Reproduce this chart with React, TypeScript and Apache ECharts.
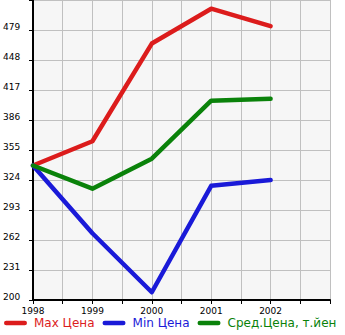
import React, { useEffect, useRef } from "react";
import * as echarts from "echarts";

const years = [1998, 1999, 2000, 2001, 2002];
const maxPrice = [339, 364, 465, 501, 483];
const minPrice = [339, 269, 208, 318, 324];
const avgPrice = [339, 315, 346, 406, 408];
const seriesNames = ["Max Цена", "Min Цена", "Сред.Цена, т.йен"];
const seriesColors = ["#dc1c1c", "#1a1ad8", "#0a820a"];

export default function App() {
  const ref = useRef<HTMLDivElement>(null);
  useEffect(() => {
    if (!ref.current) return;
    const chart = echarts.init(ref.current, null, { renderer: "svg" });
    const datasets = [maxPrice, minPrice, avgPrice];
    const icon = "path://M2.5,0 H22.5 A2.5,2.5 0 0 1 22.5,5 H2.5 A2.5,2.5 0 0 1 2.5,0 Z";
    chart.setOption({
      animation: false,
      backgroundColor: "#ffffff",
      textStyle: { fontFamily: "DejaVu Sans" },
      grid: {
        left: 31,
        right: 15,
        top: 0,
        bottom: 35,
        show: true,
        backgroundColor: "#f6f6f6",
        borderWidth: 0,
      },
      legend: {
        left: -1,
        bottom: 1,
        width: 1000,
        itemWidth: 23,
        itemHeight: 5,
        itemGap: 8,
        icon,
        data: seriesNames.map((n, i) => ({
          name: n,
          textStyle: { color: seriesColors[i] },
        })),
        textStyle: {
          fontSize: 12,
          fontFamily: "DejaVu Sans",
          padding: [0, 0, 0, 2],
        },
      },
      xAxis: {
        type: "value",
        min: 1998,
        max: 2003,
        interval: 0.5,
        axisLine: { onZero: false, lineStyle: { color: "#000", width: 2 } },
        axisTick: { show: true, length: 4, lineStyle: { color: "#000", width: 1 } },
        splitLine: { show: true, lineStyle: { color: "#c0c0c0", width: 1 } },
        axisLabel: {
          fontSize: 9,
          color: "#000",
          margin: 6,
          formatter: (v: number) =>
            Number.isInteger(v) && v < 2003 ? String(v) : "",
        },
      },
      yAxis: {
        type: "value",
        min: 200,
        max: 510,
        interval: 31,
        axisLine: { show: true, onZero: false, lineStyle: { color: "#000", width: 2 } },
        axisTick: { show: true, length: 4, lineStyle: { color: "#000", width: 1 } },
        splitLine: { show: true, lineStyle: { color: "#c0c0c0", width: 1 } },
        axisLabel: {
          fontSize: 9,
          color: "#000",
          align: "left",
          margin: 30,
          verticalAlign: "bottom",
          lineHeight: 7,
          formatter: (v: number) => (v >= 510 ? "" : String(v)),
        },
      },
      series: datasets.map((d, i) => ({
        name: seriesNames[i],
        type: "line",
        data: years.map((y, j) => [y, d[j]]),
        showSymbol: false,
        symbol: "none",
        lineStyle: { color: seriesColors[i], width: 4.5, cap: "round", join: "round" },
        itemStyle: { color: seriesColors[i] },
      })),
    });
    return () => chart.dispose();
  }, []);
  return <div ref={ref} style={{ width: 345, height: 335, position: "absolute", left: 0, top: 0 }} />;
}
